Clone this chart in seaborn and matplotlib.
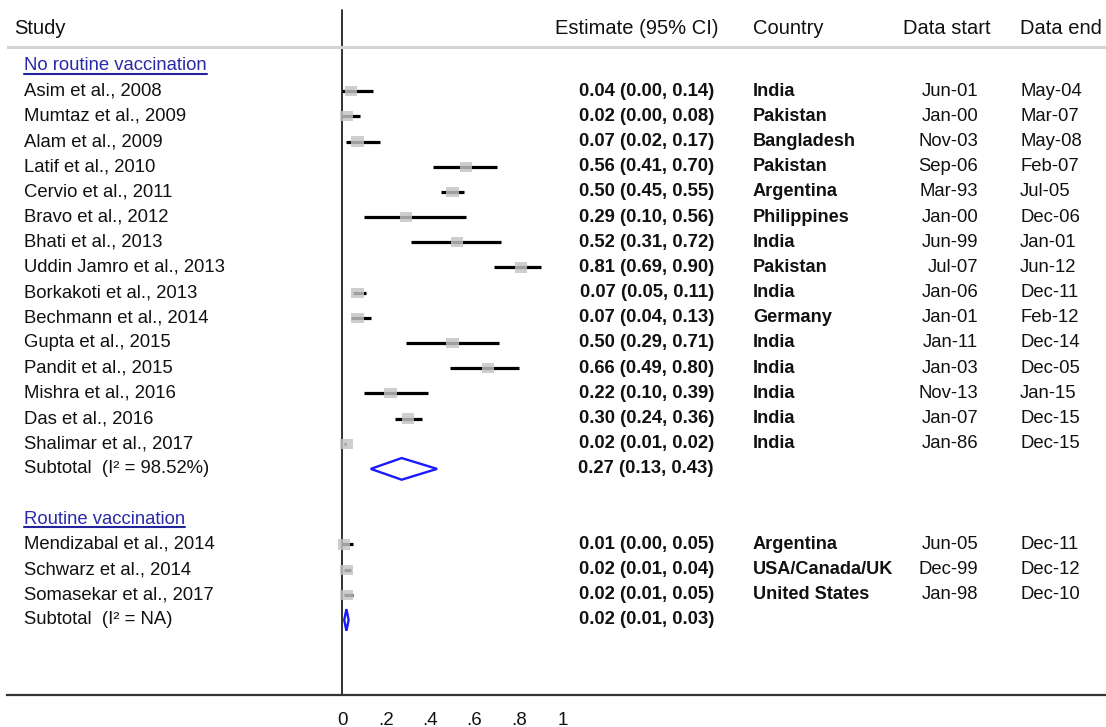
import matplotlib
matplotlib.use("Agg")
import matplotlib.pyplot as plt
import seaborn as sns
import pandas as pd
import numpy as np

# ---------------- data ----------------
studies1 = ["Asim et al., 2008", "Mumtaz et al., 2009", "Alam et al., 2009", "Latif et al., 2010",
            "Cervio et al., 2011", "Bravo et al., 2012", "Bhati et al., 2013", "Uddin Jamro et al., 2013",
            "Borkakoti et al., 2013", "Bechmann et al., 2014", "Gupta et al., 2015", "Pandit et al., 2015",
            "Mishra et al., 2016", "Das et al., 2016", "Shalimar et al., 2017"]
est1 = [0.04, 0.02, 0.07, 0.56, 0.50, 0.29, 0.52, 0.81, 0.07, 0.07, 0.50, 0.66, 0.22, 0.30, 0.02]
lo1 = [0.00, 0.00, 0.02, 0.41, 0.45, 0.10, 0.31, 0.69, 0.05, 0.04, 0.29, 0.49, 0.10, 0.24, 0.01]
hi1 = [0.14, 0.08, 0.17, 0.70, 0.55, 0.56, 0.72, 0.90, 0.11, 0.13, 0.71, 0.80, 0.39, 0.36, 0.02]
country1 = ["India", "Pakistan", "Bangladesh", "Pakistan", "Argentina", "Philippines", "India", "Pakistan",
            "India", "Germany", "India", "India", "India", "India", "India"]
start1 = ["Jun-01", "Jan-00", "Nov-03", "Sep-06", "Mar-93", "Jan-00", "Jun-99", "Jul-07", "Jan-06",
          "Jan-01", "Jan-11", "Jan-03", "Nov-13", "Jan-07", "Jan-86"]
end1 = ["May-04", "Mar-07", "May-08", "Feb-07", "Jul-05", "Dec-06", "Jan-01", "Jun-12", "Dec-11",
        "Feb-12", "Dec-14", "Dec-05", "Jan-15", "Dec-15", "Dec-15"]

studies2 = ["Mendizabal et al., 2014", "Schwarz et al., 2014", "Somasekar et al., 2017"]
est2 = [0.01, 0.02, 0.02]
lo2 = [0.00, 0.01, 0.01]
hi2 = [0.05, 0.04, 0.05]
country2 = ["Argentina", "USA/Canada/UK", "United States"]
start2 = ["Jun-05", "Dec-99", "Jan-98"]
end2 = ["Dec-11", "Dec-12", "Dec-10"]

groups = ["No routine vaccination", "Routine vaccination"]
sub_est = [0.27, 0.02]
sub_lo = [0.13, 0.01]
sub_hi = [0.43, 0.03]
sub_i2 = ["98.52%", "NA"]

headers = ["Study", "Estimate (95% CI)", "Country", "Data start", "Data end"]
xticks = [0, 0.2, 0.4, 0.6, 0.8, 1.0]
xticklabels = ["0", ".2", ".4", ".6", ".8", "1"]

# ---------------- layout ----------------
W, H = 1106, 727
sns.set_style("white")
plt.rcParams["font.family"] = ["Liberation Sans", "DejaVu Sans"]

fig = plt.figure(figsize=(W / 100, H / 100), dpi=100)
AX_L, AX_B = 7, 695          # pixel positions of axes left edge / bottom line
ax = fig.add_axes([AX_L / W, (H - AX_B) / H, (W - AX_L) / W, AX_B / H])

X0, XS = 342, 221            # pixel of x=0, pixels per unit
Y0, YS = 66, 25.18           # pixel of row 0, pixels per row


def px(x):
    return (x - X0) / XS


def py(y):
    return (y - Y0) / YS


ax.set_xlim(px(AX_L), px(W))
ax.set_ylim(py(AX_B), py(0))

# rows
rows1 = list(range(1, 1 + len(studies1)))
sub_row1 = rows1[-1] + 1
grp_row2 = sub_row1 + 2
rows2 = list(range(grp_row2 + 1, grp_row2 + 1 + len(studies2)))
sub_row2 = rows2[-1] + 1
grp_rows = [0, grp_row2]
sub_rows = [sub_row1, sub_row2]

df = pd.DataFrame({
    "study": studies1 + studies2,
    "est": est1 + est2,
    "lo": lo1 + lo2,
    "hi": hi1 + hi2,
    "country": country1 + country2,
    "start": start1 + start2,
    "end": end1 + end2,
    "row": rows1 + rows2,
})

# CI lines
ax.hlines(df["row"], df["lo"], df["hi"], color="black", lw=2.3, zorder=2)
# weight boxes
box = [(-1, -0.83), (1, -0.83), (1, 0.83), (-1, 0.83), (-1, -0.83)]
sns.scatterplot(data=df, x="est", y="row", marker=box, s=78, color="#c4c4c4",
                edgecolor="none", alpha=0.82, zorder=3, ax=ax, legend=False)

# subtotal diamonds
h = 0.43
for r, e, l, u in zip(sub_rows, sub_est, sub_lo, sub_hi):
    ax.fill([l, e, u, e, l], [r, r - h, r, r + h, r], facecolor="none",
            edgecolor="#1a1aff", lw=1.7, zorder=3)

# null line
ax.plot([0, 0], [py(10), py(AX_B)], color="#222222", lw=1.3, zorder=1)

# header separator
ax.axhline(py(47), color="#d4d4d4", lw=2.2, zorder=1)

# spines and ticks
for s in ["top", "right", "left"]:
    ax.spines[s].set_visible(False)
ax.spines["bottom"].set_color("#333333")
ax.spines["bottom"].set_linewidth(1.6)
ax.set_xticks(xticks)
ax.set_xticklabels(xticklabels)
ax.set_yticks([])
ax.tick_params(axis="x", direction="out", length=8, width=1.3, color="#333333",
               labelsize=13.5, pad=4, labelcolor="#111111")
ax.set_xlabel("")
ax.set_ylabel("")

FS = 13.3
HFS = 14.5
TXT = "#111111"
hb = py(34)
ax.text(px(14), hb, headers[0], ha="left", va="baseline", fontsize=HFS, color=TXT)
ax.text(px(555), hb, headers[1], ha="left", va="baseline", fontsize=HFS, color=TXT)
ax.text(px(753), hb, headers[2], ha="left", va="baseline", fontsize=HFS, color=TXT)
ax.text(px(903), hb, headers[3], ha="left", va="baseline", fontsize=HFS, color=TXT)
ax.text(px(1020), hb, headers[4], ha="left", va="baseline", fontsize=HFS, color=TXT)

# study rows
for _, d in df.iterrows():
    r = d["row"]
    ax.text(px(24), r, d["study"], ha="left", va="center", fontsize=FS, color=TXT)
    ax.text(px(714), r, f"{d['est']:.2f} ({d['lo']:.2f}, {d['hi']:.2f})", ha="right",
            va="center", fontsize=FS, fontweight="bold", color=TXT)
    ax.text(px(753), r, d["country"], ha="left", va="center", fontsize=FS - 0.2,
            fontweight="bold", color=TXT)
    ax.text(px(978), r, d["start"], ha="right", va="center", fontsize=FS, color=TXT)
    ax.text(px(1020), r, d["end"], ha="left", va="center", fontsize=FS, color=TXT)

# subtotals
for r, e, l, u, i2 in zip(sub_rows, sub_est, sub_lo, sub_hi, sub_i2):
    ax.text(px(24), r, f"Subtotal  (I\u00b2 = {i2})", ha="left", va="center",
            fontsize=FS, color=TXT)
    ax.text(px(714), r, f"{e:.2f} ({l:.2f}, {u:.2f})", ha="right", va="center",
            fontsize=FS, fontweight="bold", color=TXT)

# group labels (underlined)
grp_texts = []
for r, g in zip(grp_rows, groups):
    t = ax.text(px(24), r, g, ha="left", va="center", fontsize=FS, color="#2a2aa8")
    grp_texts.append((r, t))

fig.canvas.draw()
inv = ax.transData.inverted()
for r, t in grp_texts:
    bb = t.get_window_extent()
    (x1, y1) = inv.transform((bb.x0, bb.y0 + 1))
    (x2, _) = inv.transform((bb.x1, bb.y0 + 1))
    ax.plot([x1, x2], [y1, y1], color="#22229a", lw=1.5, zorder=2)

fig.savefig("out.png", dpi=100, facecolor="white")
